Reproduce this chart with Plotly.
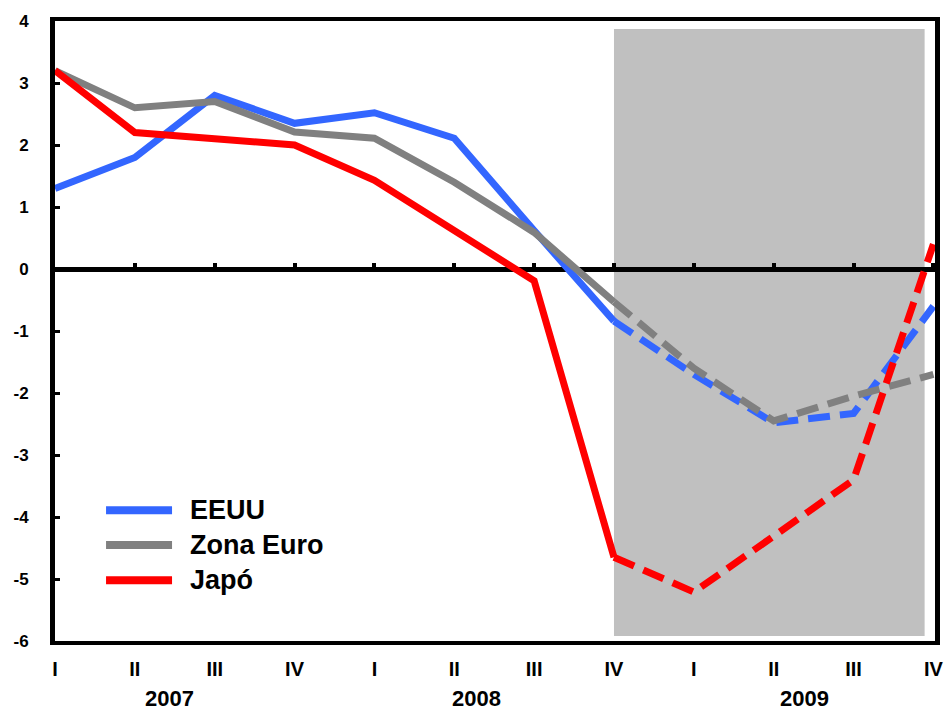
import plotly.graph_objects as go

quarters = ["I", "II", "III", "IV", "I", "II", "III", "IV", "I", "II", "III", "IV"]
years = ["2007", "2008", "2009"]
year_pos = [1.44, 5.28, 9.38]
y_ticks = [-6, -5, -4, -3, -2, -1, 0, 1, 2, 3, 4]
y_ticktext = ["-6", "-5", "-4", "-3", "-2", "-1", "0", "1", "2", "3", "4"]

eeuu = [1.3, 1.8, 2.8, 2.35, 2.52, 2.11, 0.62, -0.84, -1.7, -2.48, -2.33, -0.6]
zona_euro = [3.2, 2.6, 2.7, 2.21, 2.11, 1.4, 0.59, -0.53, -1.6, -2.45, -2.05, -1.7]
japo = [3.2, 2.2, 2.1, 2.0, 1.43, 0.62, -0.19, -4.65, -5.21, -4.31, -3.4, 0.4]

series = [("EEUU", eeuu, "#3366FF"), ("Zona Euro", zona_euro, "#808080"), ("Japó", japo, "#FF0000")]
split = 7  # index of last observed point (IV 2008); forecasts after
forecast_start, forecast_end = 7, 10.89

FONT = "Liberation Sans, Arial, sans-serif"
x = list(range(len(quarters)))

fig = go.Figure()
for name, vals, col in series:
    fig.add_trace(go.Scatter(x=x[:split + 1], y=vals[:split + 1], mode="lines",
                             line=dict(color=col, width=7), showlegend=False, hoverinfo="skip"))
    fig.add_trace(go.Scatter(x=x[split:], y=vals[split:], mode="lines",
                             line=dict(color=col, width=7, dash="22px,10px"),
                             showlegend=False, hoverinfo="skip"))

# dummy trace to activate the zero-line axis
fig.add_trace(go.Scatter(x=[0], y=[0], xaxis="x2", mode="lines", showlegend=False,
                         hoverinfo="skip", line=dict(width=0)))

fig.add_shape(type="rect", xref="x", yref="y", x0=forecast_start, x1=forecast_end,
              y0=-5.92, y1=3.87, fillcolor="#C0C0C0", line=dict(width=0), layer="below")

# manual legend
leg_y = [0.211, 0.155, 0.098]
for (name, vals, col), ly in zip(series, leg_y):
    fig.add_shape(type="line", xref="paper", yref="paper", x0=0.058, x1=0.133, y0=ly, y1=ly,
                  line=dict(color=col, width=8))
    fig.add_annotation(xref="paper", yref="paper", x=0.151, y=ly, text=name, showarrow=False,
                       xanchor="left", yanchor="middle",
                       font=dict(family=FONT, size=27, color="black", weight="bold"))

for yr, xp in zip(years, year_pos):
    fig.add_annotation(xref="x", yref="paper", x=xp, y=0, yshift=-57, text=yr, showarrow=False,
                       xanchor="center", yanchor="middle",
                       font=dict(family=FONT, size=22, color="black", weight="bold"))

fig.update_layout(
    width=944, height=711,
    margin=dict(l=55, r=9, t=21, b=70),
    paper_bgcolor="white", plot_bgcolor="white",
    showlegend=False,
    xaxis=dict(range=[0, 11.02], tickmode="array", tickvals=x, ticktext=quarters,
               showgrid=False, zeroline=False, showline=True, linecolor="black", linewidth=4,
               mirror=True, ticks="", ticklabelstandoff=7, automargin=False,
               ticklabeloverflow="allow",
               tickfont=dict(family=FONT, size=20, color="black", weight="bold")),
    xaxis2=dict(range=[0, 11.02], overlaying="x", anchor="free", position=0.6, side="bottom",
                tickmode="array", tickvals=x, showticklabels=False, ticks="inside",
                ticklen=4, tickwidth=4, tickcolor="black", showline=True, linecolor="black",
                linewidth=5, showgrid=False, zeroline=False, layer="below traces",
                automargin=False),
    yaxis=dict(range=[-6, 4], tickmode="array", tickvals=y_ticks, ticktext=y_ticktext,
               showgrid=False, zeroline=False, showline=True, linecolor="black", linewidth=5,
               mirror=True, ticks="inside", ticklen=5, tickwidth=3, tickcolor="black",
               ticklabelstandoff=18, automargin=False, ticklabeloverflow="allow",
               tickfont=dict(family=FONT, size=17, color="black", weight="bold")),
)

fig.write_html("out.html", config={"displayModeBar": False},
               post_script="document.body.style.margin='0';")
